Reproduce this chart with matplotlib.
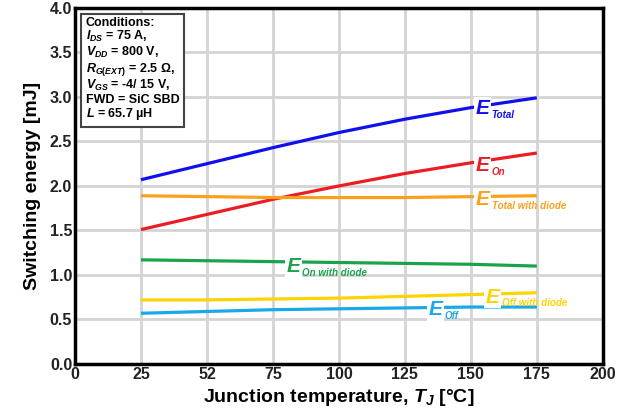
import matplotlib
matplotlib.use("Agg")
import matplotlib.pyplot as plt

plt.rcParams['font.family'] = ['Liberation Sans', 'DejaVu Sans']
plt.rcParams['mathtext.fontset'] = 'custom'
plt.rcParams['mathtext.it'] = 'Liberation Sans:bold:italic'
plt.rcParams['mathtext.rm'] = 'Liberation Sans:bold'
plt.rcParams['mathtext.bf'] = 'Liberation Sans:bold'

# Data
temps = [25, 50, 75, 100, 125, 150, 175]
e_total = [2.07, 2.25, 2.43, 2.60, 2.75, 2.88, 2.99]
e_on = [1.51, 1.68, 1.85, 2.00, 2.14, 2.26, 2.37]
e_total_diode = [1.89, 1.88, 1.87, 1.87, 1.87, 1.88, 1.89]
e_on_diode = [1.17, 1.16, 1.15, 1.14, 1.13, 1.12, 1.10]
e_off_diode = [0.72, 0.72, 0.73, 0.74, 0.76, 0.78, 0.80]
e_off = [0.57, 0.59, 0.61, 0.62, 0.63, 0.64, 0.64]

xticks = [0, 25, 50, 75, 100, 125, 150, 175, 200]
xticklabels = ['0', '25', '52', '75', '100', '125', '150', '175', '200']
yticks = [0.0, 0.5, 1.0, 1.5, 2.0, 2.5, 3.0, 3.5, 4.0]

series = [
    (e_total, '#1010ee', 'Total', (154.5, 2.87)),
    (e_on, '#ec1c24', 'On', (154.5, 2.23)),
    (e_total_diode, '#f9a11b', 'Total with diode', (154.5, 1.85)),
    (e_on_diode, '#1aa34a', 'On with diode', (82.7, 1.09)),
    (e_off_diode, '#ffd400', 'Off with diode', (158.3, 0.75)),
    (e_off, '#19a9e9', 'Off', (136.6, 0.61)),
]

fig = plt.figure(figsize=(6.17, 4.16), dpi=100)
ax = fig.add_axes([0.1216, 0.125, 0.8554, 0.856])

for vals, col, sub, (lx, ly) in series:
    ax.plot(temps, vals, color=col, lw=2.3, solid_capstyle='butt', zorder=3)
    ax.text(lx, ly, 'E', color=col, fontsize=15, fontweight='bold', fontstyle='italic',
            ha='center', va='center', zorder=5,
            bbox=dict(facecolor='white', edgecolor='none', pad=1.2))
    ax.text(lx + 3.4, ly - 0.07, sub, color=col, fontsize=7, fontweight='bold',
            fontstyle='italic', ha='left', va='center', zorder=4)

ax.set_xlim(0, 200)
ax.set_ylim(0, 4.0)
ax.set_xticks(xticks)
ax.set_xticklabels(xticklabels)
ax.set_yticks(yticks)
ax.set_yticklabels([f'{v:.1f}' for v in yticks])
ax.tick_params(length=0, labelsize=11.5, pad=2)
for lab in ax.get_xticklabels() + ax.get_yticklabels():
    lab.set_fontweight('bold')
    lab.set_color('#222222')
ax.grid(True, color='#d4d4d4', lw=2)
ax.set_axisbelow(True)
for s in ax.spines.values():
    s.set_linewidth(2.5)
    s.set_color('black')

ax.set_xlabel(r'Junction temperature, $T_J$ [°C]', fontsize=14, fontweight='bold', labelpad=4)
ax.set_ylabel('Switching energy [mJ]', fontsize=14, fontweight='bold', labelpad=6)

cond = ("Conditions:\n"
        r"$I_{DS}$ = 75 A," "\n"
        r"$V_{DD}$ = 800 V," "\n"
        r"$R_{G(EXT)}$ = 2.5 Ω," "\n"
        r"$V_{GS}$ = -4/ 15 V," "\n"
        "FWD = SiC SBD\n"
        r"$L$ = 65.7 µH")
ax.text(0.02, 0.975, cond, transform=ax.transAxes, fontsize=9, fontweight='bold',
        ha='left', va='top', linespacing=1.05, zorder=6,
        bbox=dict(facecolor='white', edgecolor='#444444', lw=1.5, boxstyle='square,pad=0.35'))

fig.savefig('out.png', dpi=100)
